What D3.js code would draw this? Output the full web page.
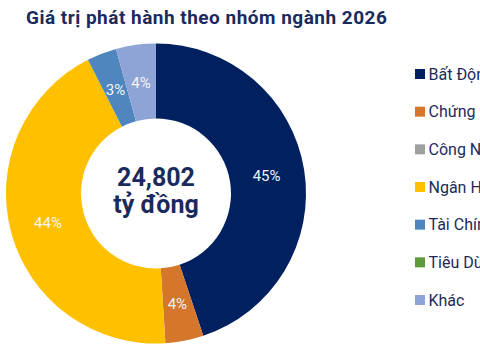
<!DOCTYPE html>
<html><head><meta charset="utf-8">
<script src="https://cdn.jsdelivr.net/npm/d3@7/dist/d3.min.js"></script>
<style>html,body{margin:0;padding:0;background:#fff;overflow:hidden}svg{display:block}</style>
</head><body>
<script>
const categories = ["Bất Động Sản","Chứng khoán","Công Nghệ","Ngân Hàng","Tài Chính","Tiêu Dùng","Khác"];
const values = [44.9, 4.1, 0, 43.5, 3.2, 0, 4.3];
const labels = ["45%","4%","","44%","3%","","4%"];
const colors = ["#002060","#D4762C","#A0A0A0","#FFC000","#4F86BE","#5E9A3A","#8FA4D6"];
const title = "Giá trị phát hành theo nhóm ngành 2026";
const centerLines = ["24,802","tỷ đồng"];

const W=480,H=360;
const svg=d3.select("body").append("svg").attr("width",W).attr("height",H);
const font="Roboto, 'Noto Sans', Arial, sans-serif";

const t=svg.append("text").attr("x",26).attr("y",24).attr("font-family",font).attr("font-weight",700)
  .attr("font-size",19).attr("fill","#1B2A5C").text(title);
const tl=t.node().getComputedTextLength();
const target=361;
if(tl<target) t.attr("letter-spacing",((target-tl)/(title.length-1)).toFixed(2));

const cx=156, cy=193.5, R=150, r=75;
const pie=d3.pie().sort(null).value(d=>d.v);
const data=pie(categories.map((c,i)=>({c,v:values[i],l:labels[i],col:colors[i]})));
const arc=d3.arc().innerRadius(r).outerRadius(R);
const larc=d3.arc().innerRadius(112).outerRadius(112);
const g=svg.append("g").attr("transform",`translate(${cx},${cy})`);
g.selectAll("path").data(data).join("path").attr("d",arc).attr("fill",d=>d.data.col);
g.selectAll("text.l").data(data.filter(d=>d.data.l)).join("text").attr("class","l")
  .attr("transform",d=>`translate(${larc.centroid(d)})`).attr("text-anchor","middle").attr("dy","0.36em")
  .attr("font-family",font).attr("font-size",15).attr("fill","#F4F4F4").text(d=>d.data.l);

g.append("text").attr("text-anchor","middle").attr("y",-8).attr("font-family",font).attr("font-weight",700)
  .attr("font-size",25).attr("fill","#1B2A5C").text(centerLines[0]);
g.append("text").attr("text-anchor","middle").attr("y",19).attr("font-family",font).attr("font-weight",700)
  .attr("font-size",25).attr("fill","#1B2A5C").text(centerLines[1]);

const ly=d3.scalePoint().domain(categories).range([74,300]);
const lg=svg.append("g");
const items=lg.selectAll("g").data(categories).join("g").attr("transform",d=>`translate(415,${ly(d)})`);
items.append("rect").attr("x",0).attr("y",-5).attr("width",10).attr("height",10).attr("fill",(d,i)=>colors[i]);
items.append("text").attr("x",13.5).attr("dy","0.36em").attr("font-family",font).attr("font-size",16)
  .attr("fill","#1B2A5C").text(d=>d);
</script>
</body></html>
